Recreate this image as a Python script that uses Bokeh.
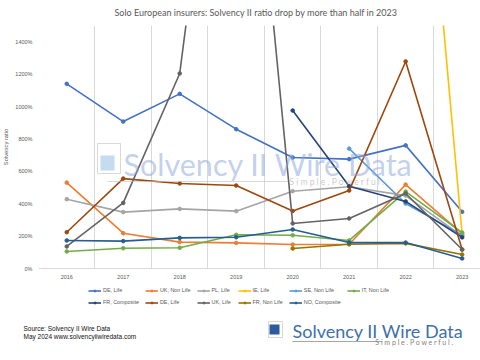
import math
from bokeh.plotting import figure
from bokeh.layouts import column
from bokeh.models import (Label, Legend, LegendItem, FixedTicker, PrintfTickFormatter,
                          Range1d, ColumnDataSource, BoxAnnotation)
from bokeh.embed import file_html
from bokeh.resources import INLINE

nan = float("nan")

years = ["2016", "2017", "2018", "2019", "2020", "2021", "2022", "2023"]

de_life = [1140, 907, 1078, 860, 685, 675, 760, 350]
uk_non_life = [530, 218, 163, 158, 148, 150, 518, 215]
pl_life = [428, 348, 368, 354, 477, 505, 450, 200]
ie_life = [nan, nan, nan, nan, nan, nan, 4100, 210]
se_non_life = [nan, nan, nan, nan, nan, 740, 401, 205]
it_non_life = [105, 125, 128, 208, 205, 173, 475, 222]
fr_composite = [nan, nan, nan, nan, 975, 508, 414, 192]
de_life_2 = [224, 555, 525, 512, 355, 481, 1278, 117]
uk_life = [136, 405, 1204, 3900, 278, 309, 463, 117]
fr_non_life = [nan, nan, nan, nan, 123, 150, 155, 86]
no_composite = [173, 169, 189, 193, 241, 160, 160, 62]

series_names = ["DE, Life", "UK, Non Life", "PL, Life", "IE, Life", "SE, Non Life",
                "IT, Non Life", "FR, Composite", "DE, Life", "UK, Life", "FR, Non Life",
                "NO, Composite"]
series_values = [de_life, uk_non_life, pl_life, ie_life, se_non_life, it_non_life,
                 fr_composite, de_life_2, uk_life, fr_non_life, no_composite]
series_colors = ["#4472C4", "#ED7D31", "#A5A5A5", "#FFC000", "#5B9BD5", "#70AD47",
                 "#264478", "#9E480E", "#636363", "#997300", "#255E91"]

y_ticks = [0, 200, 400, 600, 800, 1000, 1200, 1400]

title_text = "Solo European insurers: Solvency II ratio drop by more than half in 2023"
y_label_text = "Solvency ratio"
source_lines = ["Source: Solvency II Wire Data", "May 2024 www.solvencyiiwiredata.com"]
brand_text = "Solvency II Wire Data"
tagline_text = "S i m p l e .   P o w e r f u l ."

GREY_TXT = "#595959"


def screen_box(left, right, top, bottom, **kw):
    return BoxAnnotation(left=left, right=right, top=top, bottom=bottom,
                         left_units="screen", right_units="screen",
                         top_units="screen", bottom_units="screen", **kw)


# ---------------- main chart ----------------
p = figure(width=480, height=284, output_backend="svg", toolbar_location=None,
           x_range=Range1d(-0.5, 7.325), y_range=Range1d(0, 1500),
           min_border_left=34, min_border_right=0, min_border_top=24,
           min_border_bottom=16)
p.frame_align = False
p.outline_line_color = None
p.background_fill_color = "white"
p.border_fill_color = "white"

p.title.text = title_text
p.title.align = "left"
p.title.vertical_align = "top"
p.title.offset = 76
p.title.standoff = 12
p.title.text_font = "Lato"
p.title.text_font_size = "9px"
p.title.text_font_style = "normal"
p.title.text_color = GREY_TXT

xs = list(range(len(years)))

p.xaxis.ticker = FixedTicker(ticks=xs)
p.xaxis.major_label_overrides = {i: y for i, y in enumerate(years)}
p.xaxis.major_tick_out = 0
p.xaxis.major_tick_in = 0
p.xaxis.minor_tick_out = 0
p.xaxis.minor_tick_in = 0
p.xaxis.axis_line_color = "#D9D9D9"
p.xaxis.major_label_text_font = "Liberation Sans"
p.xaxis.major_label_text_font_size = "5.5px"
p.xaxis.major_label_text_color = GREY_TXT
p.xaxis.major_label_standoff = 6

p.yaxis.ticker = FixedTicker(ticks=y_ticks)
p.yaxis.formatter = PrintfTickFormatter(format="%d%%")
p.yaxis.major_tick_out = 0
p.yaxis.major_tick_in = 0
p.yaxis.minor_tick_out = 0
p.yaxis.minor_tick_in = 0
p.yaxis.axis_line_color = None
p.yaxis.major_label_text_font = "Liberation Sans"
p.yaxis.major_label_text_font_size = "5.5px"
p.yaxis.major_label_text_color = GREY_TXT
p.yaxis.major_label_standoff = 6
p.yaxis.axis_label = y_label_text
p.yaxis.axis_label_standoff = 3
p.yaxis.axis_label_text_font = "Liberation Sans"
p.yaxis.axis_label_text_font_size = "5.8px"
p.yaxis.axis_label_text_font_style = "normal"
p.yaxis.axis_label_text_color = GREY_TXT

p.ygrid.grid_line_color = None
p.xgrid.ticker = FixedTicker(ticks=[i - 0.5 for i in range(len(years) + 1)])
p.xgrid.grid_line_color = "#D9D9D9"
p.xgrid.grid_line_width = 1

# watermark
p.add_layout(screen_box(62, 76, 113, 98, fill_color="#9DC3E6", fill_alpha=0.6,
                        line_color=None))
p.add_layout(screen_box(59, 82, 125, 95, fill_color=None, fill_alpha=0,
                        line_color="#BFBFBF", line_alpha=0.6, line_width=1))
p.add_layout(screen_box(69, 249, 87.5, 86.5, fill_color="#BFBFBF", fill_alpha=0.6,
                        line_color=None))
p.add_layout(Label(x=85, y=105, x_units="screen", y_units="screen", text=brand_text,
                   text_font="Lato", text_font_size="30.5px", text_color="#8FAADC",
                   text_alpha=0.55, text_align="left", text_baseline="middle"))
p.add_layout(Label(x=251, y=87, x_units="screen", y_units="screen", text=tagline_text,
                   text_font="Lato", text_font_size="8.5px", text_color="#A6A6A6",
                   text_alpha=0.6, text_align="left", text_baseline="middle"))

for vals, col in zip(series_values, series_colors):
    src = ColumnDataSource(dict(x=xs, y=vals))
    p.line("x", "y", source=src, line_color=col, line_width=1.6)
    p.scatter("x", "y", source=src, marker="circle", size=3.6,
              fill_color=col, line_color=col)

# ---------------- footer (legend, source, logo) ----------------
f = figure(width=480, height=76, output_backend="svg", toolbar_location=None,
           x_range=Range1d(0, 480), y_range=Range1d(0, 76),
           x_axis_type=None, y_axis_type=None,
           min_border_left=0, min_border_right=0, min_border_top=0, min_border_bottom=0)
f.frame_align = False
f.outline_line_color = None
f.xgrid.visible = False
f.ygrid.visible = False

items = []
for name, col in zip(series_names, series_colors):
    # legend swatches only (NaN data: nothing drawn in the footer itself)
    sw = ColumnDataSource(dict(x=[nan], y=[nan]))
    lr = f.line("x", "y", source=sw, line_color=col, line_width=1.6)
    sr = f.scatter("x", "y", source=sw, marker="circle", size=3.6,
                   fill_color=col, line_color=col)
    items.append(LegendItem(label=name, renderers=[lr, sr]))

legend = Legend(items=items, location=(88, 55), orientation="horizontal", ncols=6,
                label_text_font="Liberation Sans", label_text_font_size="5.4px",
                label_text_color=GREY_TXT, glyph_width=13, glyph_height=5,
                label_height=5, label_standoff=2, spacing=6, padding=0, margin=0,
                border_line_color=None, background_fill_alpha=0)
f.add_layout(legend)

for i, line in enumerate(source_lines):
    f.add_layout(Label(x=23, y=32.5 - 8.2 * i, x_units="screen", y_units="screen",
                       text=line, text_font="Liberation Sans", text_font_size="6.5px",
                       text_color="#111111", text_align="left", text_baseline="middle"))

f.add_layout(screen_box(268, 282, 39, 23, fill_color=None, fill_alpha=0,
                        line_color="#7F7F7F", line_width=1))
f.add_layout(screen_box(269, 279, 36, 26, fill_color="#2E5C9A", fill_alpha=1,
                        line_color=None))
f.add_layout(Label(x=292, y=30, x_units="screen", y_units="screen", text=brand_text,
                   text_font="Lato", text_font_size="18px", text_color="#3E71A8",
                   text_align="left", text_baseline="middle"))
f.add_layout(screen_box(292, 382, 19.5, 18.5, fill_color="#A6A6A6", fill_alpha=1,
                        line_color=None))
f.add_layout(Label(x=457, y=19, x_units="screen", y_units="screen", text=tagline_text,
                   text_font="Lato", text_font_size="7px", text_color="#7F7F7F",
                   text_align="right", text_baseline="middle"))

page = column(p, f, spacing=0)
open("out.html", "w").write(file_html(page, INLINE))
